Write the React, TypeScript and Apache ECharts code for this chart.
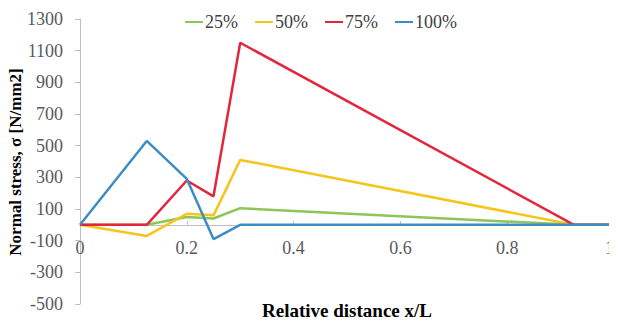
import React, { useEffect, useRef } from "react";
import * as echarts from "echarts";

const xPositions = [0, 0.125, 0.2, 0.25, 0.3, 0.925, 1];
const seriesNames = ["25%", "50%", "75%", "100%"];
const s25 = [0, 0, 50, 40, 105, 0, 0];
const s50 = [0, -70, 70, 60, 410, 0, 0];
const s75 = [0, 0, 280, 180, 1150, 0, 0];
const s100 = [0, 530, 290, -90, 0, 0, 0];
const colors = ["#8DC557", "#F5C518", "#E3263C", "#3C8DC4"];
const yAxisTitle = "Normal stress, σ [N/mm2]";
const xAxisTitle = "Relative distance x/L";

const FONT = "'Liberation Serif', 'Times New Roman', serif";

export default function App() {
  const ref = useRef<HTMLDivElement>(null);
  useEffect(() => {
    if (!ref.current) return;
    const chart = echarts.init(ref.current, undefined, { renderer: "svg" });
    const all = [s25, s50, s75, s100];
    chart.setOption({
      animation: false,
      textStyle: { fontFamily: FONT },
      legend: {
        top: 8,
        left: 180,
        itemWidth: 18,
        itemHeight: 2,
        itemGap: 17,
        icon: "rect",
        textStyle: { fontFamily: FONT, fontSize: 18, color: "#404040", padding: [0, 0, 0, -3] },
        data: seriesNames,
      },
      graphic: [
        {
          type: "text",
          x: 15,
          y: 162,
          rotation: Math.PI / 2,
          style: {
            text: yAxisTitle,
            fill: "#000",
            font: `bold 17px ${FONT}`,
            align: "center",
            verticalAlign: "middle",
          },
        },
      ],
      grid: { left: 80, right: 3, top: 19, bottom: 22, containLabel: false, outerBoundsMode: "none" },
      xAxis: {
        type: "value",
        min: 0,
        max: 1,
        interval: 0.2,
        name: xAxisTitle,
        nameLocation: "middle",
        nameGap: -3,
        nameTextStyle: { fontFamily: FONT, fontSize: 19, fontWeight: "bold", color: "#000", verticalAlign: "top" },
        axisLine: { onZero: true, lineStyle: { color: "#BFBFBF", width: 1 } },
        axisTick: { show: true, length: 4, inside: true, lineStyle: { color: "#BFBFBF" } },
        axisLabel: {
          margin: -65,
          showMaxLabel: true,
          alignMaxLabel: "right",
          hideOverlap: false,
          fontFamily: FONT,
          fontSize: 18,
          color: "#595959",
          formatter: (v: number) => String(v),
        },
        splitLine: { show: false },
      },
      yAxis: {
        type: "value",
        min: -500,
        max: 1300,
        interval: 200,
        axisLine: { show: true, lineStyle: { color: "#BFBFBF", width: 1 } },
        axisTick: { show: true, length: 5, lineStyle: { color: "#BFBFBF" } },
        axisLabel: { margin: 17, fontFamily: FONT, fontSize: 18, color: "#595959", formatter: (v: number) => String(v) },
        splitLine: { show: false },
      },
      series: seriesNames.map((n, i) => ({
        name: n,
        type: "line",
        data: xPositions.map((x, j) => [x, all[i][j]]),
        showSymbol: false,
        symbol: "none",
        lineStyle: { color: colors[i], width: 2.5 },
        itemStyle: { color: colors[i] },
      })),
    });
    return () => chart.dispose();
  }, []);
  return <div ref={ref} style={{ width: 617, height: 326, margin: -8 }} />;
}
